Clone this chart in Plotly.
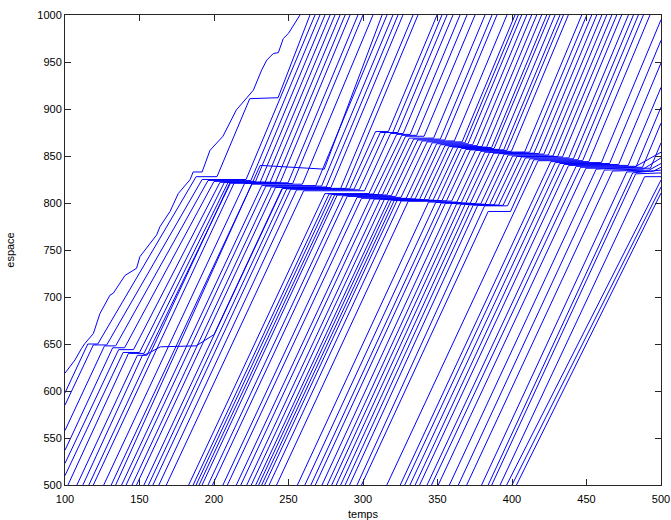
import plotly.graph_objects as go

# Each trajectory: flat list [t0, x0, t1, x1, ...] (temps, espace)
leader = [100, 619, 106.7, 633, 111, 645, 113.4, 650.7, 119, 661, 123.5, 682.6, 130.2, 702, 132.4, 704,
          140.3, 723, 142.5, 725, 148, 730.5, 150.3, 743, 161.5, 766, 163.8, 775, 170.5, 791, 176, 810,
          184, 825, 186, 833, 192, 833, 197.3, 856, 206, 871, 215, 899, 222, 912, 226.4, 920, 232, 941.5,
          235.4, 952, 239.8, 959, 243.2, 960, 246.5, 975, 250, 980.5, 257.7, 1000]

early_group = [
    [100, 598, 115.3, 650, 122, 650, 188, 828, 202, 828, 224, 911, 243, 912, 264.4, 1000],
    [100, 585, 119, 649, 128, 649, 192, 825, 221.5, 825, 267.8, 1000],
    [100, 558, 126.5, 648, 134, 648, 196, 824, 224.8, 824, 271.1, 1000],
    [100, 537, 132, 646, 140, 646, 200, 823, 227.9, 823, 274.5, 1000],
    [100, 523, 136, 644, 146, 644, 204, 822, 231, 822, 277.9, 1000],
    [100, 510, 139, 641, 150, 641, 207, 822, 234.3, 822, 281.2, 1000],
    [102, 500, 142.6, 640, 153, 640, 209.5, 822, 237.7, 822, 284.6, 1000],
    [108, 500, 148.6, 638, 155, 638, 211, 821, 241, 821, 288, 1000],
    [116, 500, 210.8, 822, 244.5, 822, 291.3, 1000],
    [119, 500, 213.6, 821.5, 249.7, 821.5, 296.6, 1000],
    [126, 500, 220.5, 820.7, 252.8, 820.7, 300, 1000],
    [131, 500, 225.4, 820, 259.3, 820, 306.7, 1000],
    [134, 500, 231, 840, 274, 836, 312.8, 1000],
    [138, 500, 232, 818.5, 268.3, 818.5, 316.1, 1000],
    [141, 500, 234.8, 818, 272.2, 818, 320.1, 1000],
    [145, 500, 238.5, 817, 275.3, 817, 323.5, 1000],
    [148, 500, 241.3, 816.5, 278.5, 816.5, 326.8, 1000],
    [112, 500, 152, 638, 156, 640, 164, 647, 188, 648, 200, 660, 245.7, 815.5, 285, 815.5, 333.6, 1000],
    [153, 500, 246, 815.5, 288.3, 815.5, 336.9, 1000],
]

middle_group = [
    [156, 500, 248.8, 815, 291, 815, 308.4, 876, 317, 876, 349.7, 1000],
    [159, 500, 251.5, 814.7, 294, 814.7, 311.6, 875, 320, 875, 353, 1000],
    [163, 500, 255.4, 814, 297.5, 814, 315, 875, 323.4, 875, 356.4, 1000],
    [168, 500, 260.2, 813, 301, 813, 318.5, 874, 327, 874, 360.4, 1000],
    [183, 500, 274.4, 810, 304, 810, 322.6, 873, 331.7, 873, 365.1, 1000],
    [186, 500, 277.2, 809.5, 307, 809.5, 326, 872, 336, 872, 369.8, 1000],
    [188, 500, 279, 809, 310, 809, 328.6, 871, 341, 871, 375.2, 1000],
    [190, 500, 281, 808.7, 313, 808.7, 331, 869, 347.4, 869, 381.9, 1000],
    [192, 500, 282.7, 808.5, 316, 808.5, 334, 868, 351.9, 868, 386.6, 1000],
    [196, 500, 286.6, 807.7, 319, 807.7, 336.7, 867, 354.9, 867, 389.9, 1000],
    [199, 500, 289.4, 807, 322, 807, 339.7, 866, 361.3, 866, 396.6, 1000],
    [206, 500, 296, 806, 325.5, 806, 343, 865, 366.5, 865, 402, 1000],
    [209, 500, 299, 805, 329, 805, 346.4, 864, 368.4, 864, 404.2, 1000],
    [215, 500, 304.7, 804.5, 332, 804.5, 349.4, 863, 370.5, 863, 406.5, 1000],
    [218, 500, 307.6, 804.3, 335, 804.3, 352, 862, 373.6, 862, 409.9, 1000],
    [222, 500, 311.5, 804, 338, 804, 355, 861, 376.6, 861, 413.2, 1000],
    [225, 500, 314.3, 803.7, 341, 803.7, 357.6, 860, 379.8, 860, 416.6, 1000],
    [228, 500, 317.2, 803.4, 344, 803.4, 360.4, 859.5, 383, 859.5, 419.9, 1000],
    [230, 500, 319, 803, 347, 803, 363.6, 859, 386.3, 859, 423.3, 1000],
    [232, 500, 321, 802.8, 350, 802.8, 366, 858, 388, 858, 425.5, 1000],
    [234, 500, 322.8, 802.5, 353, 802.5, 369, 857, 391.3, 857, 428.9, 1000],
    [237, 500, 325.6, 802.2, 356, 802.2, 372, 856.5, 394.4, 856.5, 432.2, 1000],
    [242, 500, 330.4, 802, 359.5, 802, 375.5, 856, 396.6, 856, 434.5, 1000],
]

late_group = [
    [256, 500, 344, 801, 363, 801, 379, 855, 399.6, 855, 437.8, 1000],
    [261, 500, 348.8, 800.5, 366, 800.5, 381.7, 854, 408.4, 854, 446.8, 1000],
    [265, 500, 352.5, 800, 369, 800, 385, 854, 411.8, 854, 450.2, 1000],
    [268, 500, 355.3, 799.8, 372, 799.8, 387.7, 853, 414.8, 853, 453.5, 1000],
    [272.5, 500, 359.5, 799.5, 375.5, 799.5, 391.4, 852.5, 418.1, 852.5, 456.9, 1000],
    [276, 500, 362.8, 799, 379, 799, 394.7, 852, 421.4, 852, 460.3, 1000],
    [279, 500, 365.7, 798.7, 382, 798.7, 397.4, 851, 424.4, 851, 463.6, 1000],
    [282, 500, 368.5, 798.4, 385, 798.4, 400.4, 850, 427.5, 850, 467, 1000],
    [285, 500, 371.3, 798, 388, 798, 403.3, 849.5, 430.7, 849.5, 470.3, 1000],
    [288, 500, 374, 797.8, 391, 797.8, 406.4, 849, 433.9, 849, 473.6, 1000],
    [291, 500, 377, 797.5, 394, 797.5, 409, 848, 438.1, 848, 478.1, 1000],
    [296, 500, 381.6, 797, 397, 797, 412, 847, 441.2, 847, 481.5, 1000],
    [299, 500, 384, 791, 399, 791, 414.6, 846, 444.3, 846, 484.8, 1000],
]

right_group = [
    [316, 500, 417.5, 845, 447.4, 845, 488.2, 1000],
    [325, 500, 426, 844, 451.6, 844, 492.6, 1000],
    [328, 500, 429, 843, 460, 843, 500, 995],
    [331.5, 500, 432, 842, 465.5, 842, 500, 973],
    [335, 500, 435, 841, 471.6, 841, 500, 949],
    [338, 500, 438, 840, 478, 840, 500, 923],
    [343, 500, 443, 839, 483.4, 839, 500, 902],
    [346, 500, 446, 838, 487.6, 838, 500, 885],
    [350.5, 500, 449.6, 837, 492.9, 837, 500, 864],
    [358, 500, 456.5, 836, 482, 838, 500, 854],
    [364, 500, 462, 835, 488, 836, 500, 848],
    [369.6, 500, 467.5, 834, 492, 835, 500, 842],
    [379.6, 500, 477, 833, 495, 834, 500, 838],
    [384, 500, 481, 832, 500, 835],
    [386.4, 500, 483, 831, 500, 832],
    [392, 500, 489, 828, 500, 828],
    [396.4, 500, 500, 824.5],
    [400, 500, 500, 817],
    [403, 500, 500, 810.6],
]

x_ticks = [100, 150, 200, 250, 300, 350, 400, 450, 500]
y_ticks = [500, 550, 600, 650, 700, 750, 800, 850, 900, 950, 1000]

trajectories = [leader] + early_group + middle_group + late_group + right_group

xs, ys = [], []
for tr in trajectories:
    xs += list(tr[0::2]) + [None]
    ys += list(tr[1::2]) + [None]

fig = go.Figure()
fig.add_trace(go.Scatter(x=xs, y=ys, mode="lines",
                         line=dict(color="#0000ff", width=1),
                         hoverinfo="skip", showlegend=False))

FONT = "Liberation Sans, Arial, Helvetica, sans-serif"
axis_common = dict(showgrid=False, zeroline=False, showline=True, linecolor="#262626",
                   linewidth=1, mirror="ticks", ticks="inside", ticklen=6,
                   tickcolor="#262626", tickwidth=1, automargin=False,
                   tickfont=dict(family=FONT, size=11, color="#000000"))

fig.update_xaxes(range=[100, 500], tickvals=x_ticks, ticktext=[str(v) for v in x_ticks],
                 ticklabelstandoff=4,
                 title=dict(text="temps", standoff=6, font=dict(family=FONT, size=11, color="#000")),
                 **axis_common)
fig.update_yaxes(range=[500, 1000], tickvals=y_ticks, ticktext=[str(v) for v in y_ticks],
                 title=dict(text="espace", standoff=20, font=dict(family=FONT, size=11, color="#000")),
                 **axis_common)

fig.update_layout(width=671, height=520, margin=dict(l=65, r=10, t=15, b=35),
                  plot_bgcolor="white", paper_bgcolor="white")

fig.write_html("out.html")
